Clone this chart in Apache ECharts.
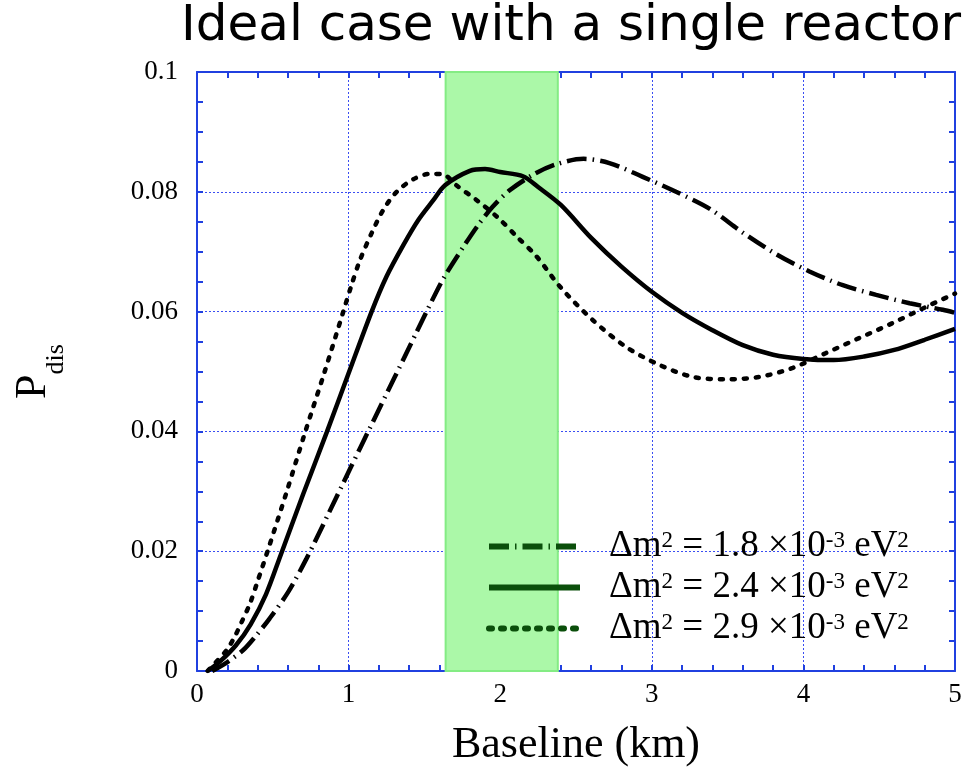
<!DOCTYPE html>
<html>
<head>
<meta charset="utf-8">
<script src="https://cdn.jsdelivr.net/npm/echarts@6/dist/echarts.min.js"></script>
<style>
    html, body { margin: 0; padding: 0; background: #fff; }
    #chart { width: 966px; height: 773px; }
</style>
</head>
<body>
<div id="chart"></div>
<script>
// baseline (km) and P_dis, one pair of arrays per curve
var base18 = [0.1, 0.2, 0.305, 0.383, 0.48, 0.602, 0.723, 0.866, 0.965, 1.02, 1.141, 1.251, 1.361, 1.449, 1.526, 1.625, 1.757, 1.856, 1.95, 2.06, 2.22, 2.37, 2.55, 2.72, 2.94, 3.16, 3.38, 3.6, 3.82, 4.04, 4.26, 4.48, 4.7, 4.92, 5.0];
var pdis18 = [0, 0.0015, 0.0035, 0.0057, 0.0088, 0.0132, 0.0188, 0.0262, 0.0314, 0.0343, 0.0406, 0.0463, 0.052, 0.0566, 0.0606, 0.0655, 0.0708, 0.0745, 0.0775, 0.0802, 0.0829, 0.0846, 0.0855, 0.0848, 0.0825, 0.08, 0.0772, 0.0732, 0.0696, 0.0667, 0.0644, 0.0628, 0.0614, 0.0603, 0.0598];

var base24 = [0.07, 0.152, 0.257, 0.354, 0.455, 0.554, 0.7, 0.855, 1.0, 1.152, 1.251, 1.361, 1.46, 1.559, 1.636, 1.8, 1.9, 2.0, 2.15, 2.25, 2.4, 2.6, 2.8, 3.0, 3.2, 3.4, 3.6, 3.8, 4.0, 4.2, 4.4, 4.6, 4.8, 5.0];
var pdis24 = [0, 0.0016, 0.0043, 0.0078, 0.0128, 0.0195, 0.0295, 0.0398, 0.0497, 0.06, 0.0659, 0.0711, 0.0753, 0.0786, 0.0811, 0.0835, 0.0838, 0.0833, 0.0826, 0.0808, 0.0778, 0.0723, 0.0675, 0.0633, 0.0598, 0.0569, 0.0544, 0.0528, 0.0521, 0.0519, 0.0525, 0.0536, 0.0553, 0.0571];

var base29 = [0.07, 0.196, 0.25, 0.295, 0.35, 0.4, 0.468, 0.59, 0.715, 0.84, 0.965, 1.02, 1.075, 1.152, 1.229, 1.317, 1.427, 1.537, 1.625, 1.71, 1.845, 1.98, 2.11, 2.24, 2.4, 2.61, 2.83, 3.05, 3.27, 3.49, 3.71, 3.93, 4.15, 4.37, 4.59, 4.81, 5.0];
var pdis29 = [0, 0.0035, 0.0058, 0.0082, 0.0113, 0.015, 0.0202, 0.0298, 0.04, 0.0498, 0.06, 0.0645, 0.0686, 0.0731, 0.077, 0.08, 0.0821, 0.083, 0.0829, 0.0811, 0.0786, 0.0758, 0.0725, 0.0692, 0.064, 0.0586, 0.0541, 0.0511, 0.0491, 0.0487, 0.0491, 0.0506, 0.0531, 0.0556, 0.0581, 0.0608, 0.063];

// legend labels: mass splitting values
var dm2Labels = ['1.8', '2.4', '2.9'];
var seriesNames = ['dm18', 'dm24', 'dm29'];

// green band (baseline range)
var bandRange = [1.64, 2.38];

function zipXY(xs, ys) {
    return xs.map(function (x, i) { return [x, ys[i]]; });
}

var blue = '#2040e0';
var serif = '"Liberation Serif", "DejaVu Serif", serif';

var myChart = echarts.init(document.getElementById('chart'));

// axis helpers: bottom/left have labels, top/right only frame + ticks
function xAxisCfg(pos, main) {
    return {
        type: 'value', position: pos, min: 0, max: 5, interval: 1,
        axisLine: { show: true, onZero: false, lineStyle: { color: blue, width: 2 } },
        axisTick: { show: true, inside: true, length: 6, lineStyle: { color: blue, width: 2 } },
        minorTick: { show: true, splitNumber: 5, length: 6, lineStyle: { color: blue, width: 2 } },
        splitLine: { show: main, lineStyle: { color: '#3a4ef2', width: 1, type: [2, 2] } },
        axisLabel: { show: main, color: '#000', fontFamily: serif, fontSize: 27, margin: 10 },
        name: main ? 'Baseline (km)' : '',
        nameLocation: 'middle', nameGap: 52,
        nameTextStyle: { color: '#000', fontFamily: serif, fontSize: 44 }
    };
}
function yAxisCfg(pos, main) {
    return {
        type: 'value', position: pos, min: 0, max: 0.1, interval: 0.02,
        axisLine: { show: true, onZero: false, lineStyle: { color: blue, width: 2 } },
        axisTick: { show: true, inside: true, length: 6, lineStyle: { color: blue, width: 2 } },
        minorTick: { show: true, splitNumber: 4, length: 6, lineStyle: { color: blue, width: 2 } },
        splitLine: { show: main, lineStyle: { color: '#3a4ef2', width: 1, type: [2, 2] } },
        axisLabel: { show: main, color: '#000', fontFamily: serif, fontSize: 27, margin: 19 },
        name: main ? '{p|P}{s|dis}' : '',
        nameLocation: 'middle', nameGap: 142, nameRotate: 90,
        nameTextStyle: {
            color: '#000', fontFamily: serif,
            rich: {
                p: { fontFamily: serif, fontSize: 44, color: '#000' },
                s: { fontFamily: serif, fontSize: 26, color: '#000', verticalAlign: 'bottom', padding: [0, 0, -14, 0] }
            }
        }
    };
}

var lineTypes = [[20, 6, 1.5, 6], 'solid', [3, 9]];
var datasets = [zipXY(base18, pdis18), zipXY(base24, pdis24), zipXY(base29, pdis29)];

var series = seriesNames.map(function (name, i) {
    return {
        name: name,
        type: 'line',
        data: datasets[i],
        smooth: 0.3,
        symbol: 'none',
        color: '#000',
        z: 3,
        lineStyle: { color: '#000', width: 4.5, type: lineTypes[i], cap: i === 2 ? 'round' : 'butt' }
    };
});

// the shaded band sits under the grid lines
series.unshift({
    name: 'band',
    type: 'line',
    data: [],
    z: -1,
    silent: true,
    markArea: {
        silent: true,
        itemStyle: { color: '#abf8a8', borderColor: '#84ec84', borderWidth: 2 },
        data: [[{ xAxis: bandRange[0] }, { xAxis: bandRange[1] }]]
    }
});

var option = {
    animation: false,
    title: {
        text: 'Ideal case with a single reactor',
        left: 181, top: 2, padding: 0,
        textStyle: { fontFamily: '"Comic Sans MS", "DejaVu Sans", sans-serif', fontSize: 50, fontWeight: 'normal', color: '#000' }
    },
    grid: { left: 197, right: 11, top: 72, bottom: 102 },
    legend: {
        data: seriesNames,
        orient: 'vertical',
        left: 486, top: 528, padding: 0,
        itemWidth: 91, itemHeight: 14, itemGap: 4,
        itemStyle: { opacity: 0 },
        lineStyle: { color: '#0b4f0b', width: 6 },
        formatter: function (name) {
            var v = dm2Labels[seriesNames.indexOf(name)];
            return '{n|Δm}{s|2}{n| = ' + v + ' ×10}{s|-3}{n| eV}{s|2}';
        },
        textStyle: {
            padding: [0, 0, 0, 24],
            rich: {
                n: { fontFamily: serif, fontSize: 37, color: '#000', lineHeight: 34 },
                s: { fontFamily: serif, fontSize: 23, color: '#000', verticalAlign: 'top', lineHeight: 34, padding: [0, 0, 10, 0] }
            }
        }
    },
    xAxis: [xAxisCfg('bottom', true), xAxisCfg('top', false)],
    yAxis: [yAxisCfg('left', true), yAxisCfg('right', false)],
    series: series
};

myChart.setOption(option);
</script>
</body>
</html>
